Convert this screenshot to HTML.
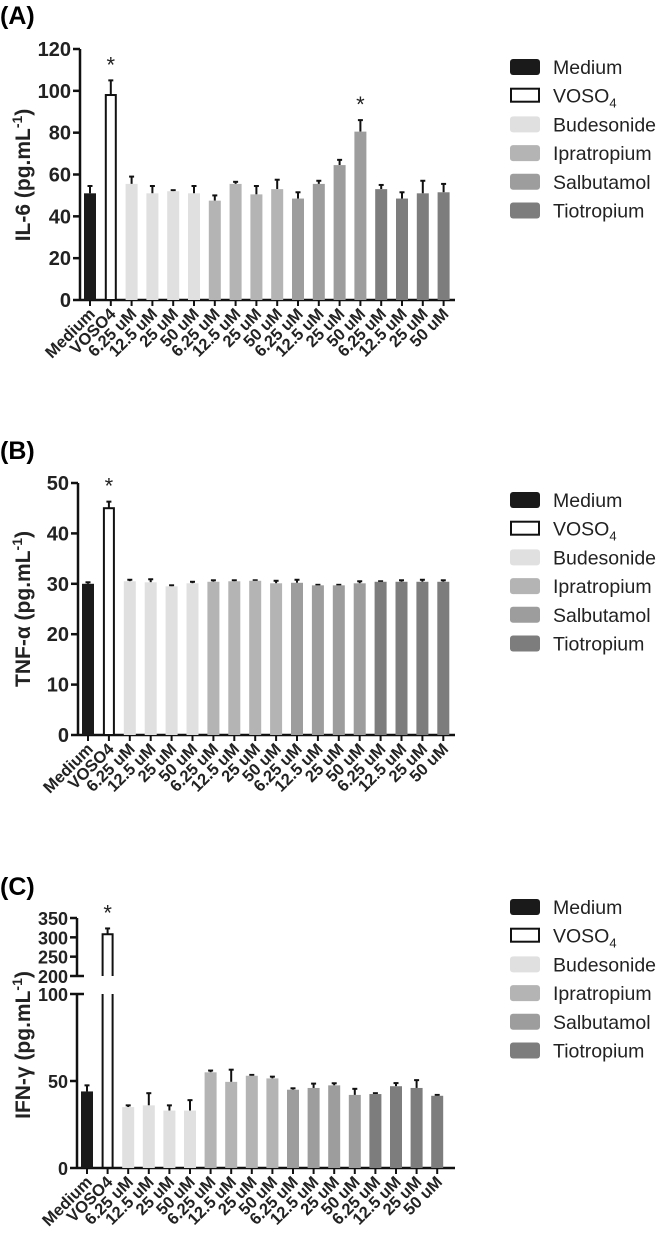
<!DOCTYPE html>
<html><head><meta charset="utf-8"><style>
body{margin:0;background:#fff}
svg text{font-family:"Liberation Sans",Arial,sans-serif}
</style></head><body>
<svg id="fig" width="661" height="1237" viewBox="0 0 661 1237" xmlns="http://www.w3.org/2000/svg"></svg>
<script>
const categories = ["Medium","VOSO4","6.25 uM","12.5 uM","25 uM","50 uM","6.25 uM","12.5 uM","25 uM","50 uM","6.25 uM","12.5 uM","25 uM","50 uM","6.25 uM","12.5 uM","25 uM","50 uM"];
const groupOf = [0,1,2,2,2,2,3,3,3,3,4,4,4,4,5,5,5,5];
const legendNames = ["Medium","VOSO","Budesonide","Ipratropium","Salbutamol","Tiotropium"];
const il6Values = [51,98,55.5,51,52,51,47.5,55.5,50.5,53,48.5,55.5,64.5,80.5,53,48.5,51,51.5];
const il6Errors = [3.5,7,3.5,3.5,0.5,3.5,2.5,1,4,4.5,3,1.5,2.5,5.5,2,3,6,4];
const il6Ticks = [0,20,40,60,80,100,120];
const tnfValues = [30,45,30.5,30.3,29.5,30.1,30.4,30.5,30.6,30.1,30.2,29.7,29.7,30.1,30.4,30.4,30.4,30.4];
const tnfErrors = [0.3,1.3,0.3,0.6,0.2,0.3,0.3,0.2,0.1,0.5,0.6,0.1,0.1,0.4,0.1,0.3,0.4,0.3];
const tnfTicks = [0,10,20,30,40,50];
const ifnValues = [44,308,35,36,33,33,55,49.5,53,51.5,45,46,47.5,42,42.5,47,46,41.5];
const ifnErrors = [3.5,15,1,7,3,6,1,7,0.5,1,0.8,2.5,1.2,3.5,0.5,1.8,4.5,0.5];
const ifnTicksLow = [0,50,100];
const ifnTicksHigh = [200,250,300,350];
const starsA = [1,13], starsB=[1], starsC=[1];

const fills = ["#1a1a1a","#ffffff","#e0e0e0","#b4b4b4","#9d9d9d","#7d7d7d"];
const svg = document.getElementById('fig');
const NS = "http://www.w3.org/2000/svg";
function mk(tag, attrs, parent){const e=document.createElementNS(NS,tag);for(const k in attrs)e.setAttribute(k,attrs[k]);(parent||svg).appendChild(e);return e;}

function panel(o){
  const g = mk('g',{});
  
  
  const lbl = mk('text',{x:0,y:o.labelY,'font-size':25,'font-weight':'bold'},g); lbl.textContent=o.label;
  
  
  const ax=o.axisX, y0=o.y0, xEnd=455;
  const xOf = i => o.firstX + i*o.step;
  o.segments.forEach(s=>{
    const line=mk('line',{x1:ax,x2:ax,y1:s.py0,y2:s.py1,stroke:'#111','stroke-width':2.5},g);
    
    
    s.ticks.forEach(t=>{
      const py=s.scale(t);
      mk('line',{x1:ax-7,x2:ax+(s.cap&&(t===s.capAt)?7:0),y1:py,y2:py,stroke:'#111','stroke-width':2.5},g);
      const tx=mk('text',{x:ax-9,y:py+7,'font-size':o.tickSize||20,'font-weight':'bold','text-anchor':'end',fill:'#222'},g);
      tx.textContent=t;
      
      
    });
  });
  const xl=mk('line',{x1:ax,x2:xEnd,y1:y0,y2:y0,stroke:'#111','stroke-width':2.5},g);
  
  
  o.values.forEach((v,i)=>{
    const cx=xOf(i), w=12, grp=groupOf[i];
    const top=o.toY(v), etop=o.toY(v+o.errors[i]);
    mk('line',{x1:cx,x2:cx,y1:top,y2:etop,stroke:'#111','stroke-width':2},g);
    mk('line',{x1:cx-2.5,x2:cx+2.5,y1:etop,y2:etop,stroke:'#111','stroke-width':2},g);
    let bar;
    if(grp===1){
      if(o.breakGap){
        bar=mk('path',{d:`M${cx-w/2+1},${y0} V${o.breakGap[0]} M${cx+w/2-1},${y0} V${o.breakGap[0]} M${cx-w/2+1},${o.breakGap[1]} V${top} H${cx+w/2-1} V${o.breakGap[1]}`,fill:'none',stroke:'#111','stroke-width':2},g);
      } else {
        bar=mk('rect',{x:cx-w/2+1,y:top,width:w-2,height:y0-top,fill:'#fff',stroke:'#111','stroke-width':2},g);
      }
    } else {
      bar=mk('rect',{x:cx-w/2,y:top,width:w,height:y0-top,fill:fills[grp]},g);
    }
    
    
    mk('line',{x1:cx,x2:cx,y1:y0,y2:y0+6,stroke:'#111','stroke-width':2},g);
    const t=mk('text',{transform:`translate(${cx+6},${y0+15}) rotate(-45)`,'font-size':16.5,'font-weight':'bold','text-anchor':'end',fill:'#222'},g);
    t.textContent=categories[i];
    
    
  });
  o.stars.forEach(i=>{
    const s=mk('text',{x:xOf(i),y:o.toY(o.values[i]+o.errors[i])-8,'font-size':22,'text-anchor':'middle',fill:'#222'},g);
    s.textContent='*';
    
    
  });
  const yt=mk('text',{transform:`translate(${o.titleX},${o.titleY}) rotate(-90)`,'font-size':21,'font-weight':'bold','text-anchor':'middle',fill:'#222'},g);
  yt.innerHTML=o.title+' (pg.mL<tspan dy="-8" font-size="14">-1</tspan><tspan dy="8">)</tspan>';
  
  
  legendNames.forEach((n,k)=>{
    const ly=o.legendY+k*28.7;
    const sw = k===1 ? mk('rect',{x:511,y:ly-7,width:28,height:13,fill:'#fff',stroke:'#111','stroke-width':2},g)
                     : mk('rect',{x:510,y:ly-8,width:30,height:16,rx:3,fill:fills[k]},g);
    
    
    const t=mk('text',{x:553,y:ly+7,'font-size':19.5,fill:'#222'},g);
    t.innerHTML = k===1 ? 'VOSO<tspan dy="5" font-size="13">4</tspan>' : n;
    
    
  });
}

(function(){const y0=300,k=(300-49)/120;const sc=v=>y0-v*k;
panel({name:'panel-a-il6',label:'(A)',labelY:24,axisX:80,y0,firstX:90,step:20.8,values:il6Values,errors:il6Errors,toY:sc,
 segments:[{py0:y0,py1:49,ticks:il6Ticks,scale:sc}],stars:starsA,title:'IL-6',titleX:30,titleY:175,legendY:67});})();
(function(){const y0=735,k=(735-483)/50;const sc=v=>y0-v*k;
panel({name:'panel-b-tnf',label:'(B)',labelY:459,axisX:78,y0,firstX:88,step:20.9,values:tnfValues,errors:tnfErrors,toY:sc,
 segments:[{py0:y0,py1:483,ticks:tnfTicks,scale:sc}],stars:starsB,title:'TNF-\u03b1',titleX:30,titleY:609,legendY:500});})();
(function(){const y0=1168,kl=(1168-994)/100,yb=976,kh=(976-918)/150;
const low=v=>y0-v*kl, high=v=>yb-(v-200)*kh;
const sc=v=>v<=100?low(v):high(v);
panel({name:'panel-c-ifn',label:'(C)',labelY:895,axisX:77,y0,firstX:87,step:20.6,values:ifnValues,errors:ifnErrors,toY:sc,breakGap:[994,976],tickSize:18,
 segments:[{py0:y0,py1:994,ticks:ifnTicksLow,scale:low,cap:true,capAt:100},{py0:976,py1:918,ticks:ifnTicksHigh,scale:high,cap:true,capAt:200}],
 stars:starsC,title:'IFN-\u03b3',titleX:30,titleY:1045,legendY:907});})();
</script>
</body></html>
